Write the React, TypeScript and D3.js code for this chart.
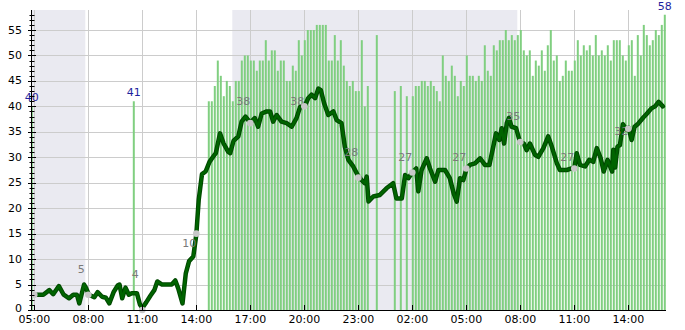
import React from "react";
import * as d3 from "d3";

// ---------- data ----------
// time strings: "<day> HH:MM"
const xTickTimes = ["1 05:00","1 08:00","1 11:00","1 14:00","1 17:00","1 20:00","1 23:00","2 02:00","2 05:00","2 08:00","2 11:00","2 14:00"];
const xTickLabels = ["05:00","08:00","11:00","14:00","17:00","20:00","23:00","02:00","05:00","08:00","11:00","14:00"];
const yTicks = [0,5,10,15,20,25,30,35,40,45,50,55];

const nightStart = ["1 04:50", "1 16:00"];
const nightEnd = ["1 07:50", "2 07:50"];

// sparse early bars
const sparseBarTimes = ["1 04:50", "1 10:30"];
const sparseBarValues = [40, 41];

// regular bars, every 10 minutes from barStart (null = no bar)
const barStart = "1 14:40";
const barStepMinutes = 10;
const barValues: (number | null)[] = [
  41,41,44,49,46,42,45,44,41,45,45,49,50,50,49,49,47,49,49,53,49,51,51,47,
  49,49,45,45,48,47,53,50,
  53,55,55,55,56,56,56,56,49,49,54,49,53,48,45,44,45,43,
  43,53,40,44,null,null,54,null,null,null,null,null,43,null,44,null,42,null,
  42,44,44,45,45,44,45,44,
  43,41,50,46,45,48,46,42,45,44,
  50,46,46,45,46,45,52,47,46,52,51,53,53,55,53,54,
  53,54,55,51,50,51,46,49,48,51,47,52,55,49,50,45,46,49,47,47,
  49,53,50,52,51,52,50,
  54,50,51,50,52,49,53,53,53,50,49,52,53,46,54,50,56,54,52,53,55,54,56,58,
];

const annotatedBarTimes = ["1 04:50", "1 10:30", "2 16:00"];
const annotatedBarValues = [40, 41, 58];

const lineTimes = [
  "1 05:00","1 05:30","1 05:50","1 06:03","1 06:22","1 06:38","1 06:56","1 07:10","1 07:22","1 07:30","1 07:46","1 07:52","1 08:02",
  "1 08:20","1 08:31","1 08:46","1 08:59","1 09:10","1 09:25","1 09:38","1 09:44","1 09:53","1 10:04","1 10:15","1 10:25","1 10:42",
  "1 10:52","1 11:00","1 11:13","1 11:27","1 11:40","1 11:50","1 12:06","1 12:38","1 12:50","1 13:00","1 13:14","1 13:25","1 13:36",
  "1 13:50","1 14:00","1 14:08","1 14:19","1 14:31","1 14:44","1 14:56","1 15:05","1 15:19","1 15:31","1 15:46","1 15:53","1 16:04",
  "1 16:20","1 16:31","1 16:44","1 17:00","1 17:15","1 17:26","1 17:38","1 17:55","1 18:06","1 18:16","1 18:28","1 18:44","1 19:01",
  "1 19:18","1 19:34","1 19:46","1 20:01","1 20:13","1 20:24","1 20:36","1 20:47","1 20:55","1 21:06","1 21:20","1 21:37","1 21:48",
  "1 22:04","1 22:15","1 22:27","1 22:43","1 22:58","1 23:11","1 23:22","1 23:28","1 23:34","1 23:50","2 00:12","2 00:34","2 00:56",
  "2 01:07","2 01:25","2 01:36","2 01:47","2 02:00","2 02:13","2 02:20","2 02:31","2 02:48","2 02:59","2 03:16","2 03:27","2 03:49",
  "2 04:05","2 04:18","2 04:28","2 04:39","2 04:50","2 05:01","2 05:12","2 05:29","2 05:46","2 06:02","2 06:17","2 06:30","2 06:39",
  "2 06:50","2 06:58","2 07:06","2 07:15","2 07:22","2 07:31","2 07:46","2 07:59","2 08:12","2 08:21","2 08:32","2 08:49","2 09:00",
  "2 09:17","2 09:33","2 09:45","2 10:02","2 10:12","2 10:35","2 10:51","2 11:00","2 11:08","2 11:19","2 11:36","2 11:50","2 12:03",
  "2 12:15","2 12:28","2 12:38","2 12:51","2 13:06","2 13:10","2 13:16","2 13:24","2 13:32","2 13:42","2 13:54","2 14:01","2 14:11",
  "2 14:21","2 14:33","2 14:50","2 15:01","2 15:17","2 15:29","2 15:41","2 15:55",
];
const lineValues = [
  3,3,3.9,3.1,4.7,3,2.3,3,3,1.3,5,4.4,3,
  2.5,3.5,2.6,2.4,1.3,3.6,4.8,5,2.3,4.4,3,3.3,3.3,
  1.1,0.4,1.5,2.8,3.9,5.6,5,5,5.8,4.2,1.3,7.2,9.6,
  10.5,14.8,21.6,26.7,27.2,29.1,30.1,30.8,34.7,32.7,31.1,30.8,33.2,
  34.1,37,38,36.8,37.7,36,38.6,39,39,37,38.3,37,36.7,
  36,37.7,39.9,40,41.6,42.3,41.6,43.5,43.2,40.6,38.3,39,37.3,
  36.7,32.1,29.5,28.2,26.5,25.5,24.9,26.2,21.3,22.3,22.6,23.9,24.9,
  21.9,21.9,26.5,25.9,27,27.8,23.3,27.5,29.8,27.8,25.2,27.5,27.5,
  25.9,22.9,21.3,25.9,25.5,27.8,28.5,28.8,29.8,28.5,28.5,32.1,34.7,
  33.4,35.7,32.7,36.7,37.7,36,35.7,33,32.7,31.4,32.7,30.5,30.1,
  31.8,34.1,32.1,28.8,27.5,27.5,27.8,27.8,30.8,28.5,28.2,29.5,29.1,
  31.8,29.8,27.2,29.5,27.2,31.5,28,32.1,32.4,36.5,35.4,35.8,33.4,
  36,36.6,37.8,38.5,39.6,40,40.9,40,
];

const dotTimes = ["1 05:00","1 08:00","1 11:00","1 14:00","1 17:00","1 20:00","1 23:00","2 02:00","2 05:00","2 08:00","2 11:00","2 14:00"];
const dotValues = [3,3,0,15,36.7,40,26,27,27.8,33,27.8,35.6];
const dotLabels: (number | null)[] = [null,5,4,10,38,38,28,27,27,35,27,32];

// ---------- helpers ----------
const parseT = (s: string) => {
  const [d, hm] = s.split(" ");
  const [h, m] = hm.split(":").map(Number);
  return new Date(2024, 0, Number(d), h, m);
};

const W = 685, H = 330;
const left = 31.5, right = 666, top = 10, bottom = 310;

export default function App() {
  const x = d3.scaleTime()
    .domain([parseT("1 05:00"), parseT("2 14:00")])
    .range([34.3, 628.3]);
  const y = d3.scaleLinear().domain([0, 55]).range([310, 30]);

  const start = parseT(barStart);
  const bars = barValues
    .map((v, i) => ({ t: d3.timeMinute.offset(start, i * barStepMinutes), v }))
    .filter(b => b.v !== null) as { t: Date; v: number }[];
  sparseBarTimes.forEach((s, i) => bars.push({ t: parseT(s), v: sparseBarValues[i] }));

  const linePts = lineTimes.map((s, i) => [parseT(s), lineValues[i]] as [Date, number]);
  const lineGen = d3.line<[Date, number]>().x(d => x(d[0])).y(d => y(d[1])).curve(d3.curveLinear);
  const pathD = lineGen(linePts) || "";

  const font = "DejaVu Sans, Verdana, sans-serif";
  const minor = d3.range(0, 59, 1);

  return (
    <svg width={W} height={H} style={{ position: "absolute", left: 0, top: 0, background: "#fff" }} fontFamily={font}>
      <defs>
        <clipPath id="plot">
          <rect x={left} y={top} width={right - left} height={bottom - top + 1} />
        </clipPath>
      </defs>
      {/* night bands */}
      <g clipPath="url(#plot)">
        {nightStart.map((s, i) => {
          const x0 = Math.max(left, x(parseT(s)));
          const x1 = x(parseT(nightEnd[i]));
          return <rect key={i} x={x0} y={top} width={x1 - x0} height={bottom - top} fill="#eaeaf1" />;
        })}
      </g>
      {/* grid */}
      <g stroke="#cccccc" strokeWidth={1}>
        {yTicks.filter(v => v > 0).map(v => (
          <line key={v} x1={left} x2={right} y1={Math.round(y(v)) + 0.5} y2={Math.round(y(v)) + 0.5} />
        ))}
        {xTickTimes.map(s => {
          const xx = Math.round(x(parseT(s))) + 0.5;
          return <line key={s} x1={xx} x2={xx} y1={top} y2={bottom} />;
        })}
      </g>
      {/* bars */}
      <g clipPath="url(#plot)" fill="#80cf80">
        {bars.map((b, i) => (
          <rect key={i} x={x(b.t) - 0.5} y={y(b.v)} width={2} height={y(0) - y(b.v)} />
        ))}
      </g>
      {/* line */}
      <g clipPath="url(#plot)">
        <path d={pathD} fill="none" stroke="#004800" strokeWidth={4.5} strokeLinejoin="round" strokeLinecap="round" />
        <path d={pathD} fill="none" stroke="#006400" strokeWidth={2.5} strokeLinejoin="round" strokeLinecap="round" />
      </g>
      {/* dot labels */}
      <g fill="#7a7a7a" fontSize={11} textAnchor="middle">
        {dotTimes.map((s, i) =>
          dotLabels[i] === null ? null : (
            <text key={i} x={x(parseT(s)) - 7} y={y((dotLabels[i] as number) + 3)} dominantBaseline="central">
              {dotLabels[i]}
            </text>
          )
        )}
      </g>
      {/* dots */}
      <g fill="#c8c8c8">
        {dotTimes.map((s, i) => (
          <circle key={i} cx={x(parseT(s))} cy={y(dotValues[i])} r={3.3} />
        ))}
      </g>
      {/* annotated bar labels */}
      <g fill="#1f1f9e" fontSize={11} textAnchor="middle">
        {annotatedBarTimes.map((s, i) => (
          <text key={i} x={x(parseT(s)) + 0.5} y={y(annotatedBarValues[i]) - 8.5} dominantBaseline="central">
            {annotatedBarValues[i]}
          </text>
        ))}
      </g>
      {/* axes */}
      <g stroke="#000" strokeWidth={1}>
        <line x1={left} x2={left} y1={top} y2={bottom + 0.5} />
        <line x1={left} x2={right} y1={bottom + 0.5} y2={bottom + 0.5} />
        {minor.map(v => {
          const yy = Math.round(y(v)) + 0.5;
          if (yy < top) return null;
          const major = v % 5 === 0;
          return <line key={v} x1={major ? 28 : 29.5} x2={major ? 36 : 34.5} y1={yy} y2={yy} />;
        })}
        {xTickTimes.map(s => {
          const xx = Math.round(x(parseT(s))) + 0.5;
          return <line key={s} x1={xx} x2={xx} y1={bottom + 0.5} y2={bottom - 5} />;
        })}
      </g>
      <g fontSize={11} fill="#000">
        {yTicks.map(v => (
          <text key={v} x={22} y={y(v) - (v === 0 ? 2 : 0)} textAnchor="end" dominantBaseline="central">{v}</text>
        ))}
        {xTickTimes.map((s, i) => (
          <text key={s} x={x(parseT(s))} y={323} textAnchor="middle">{xTickLabels[i]}</text>
        ))}
      </g>
    </svg>
  );
}
